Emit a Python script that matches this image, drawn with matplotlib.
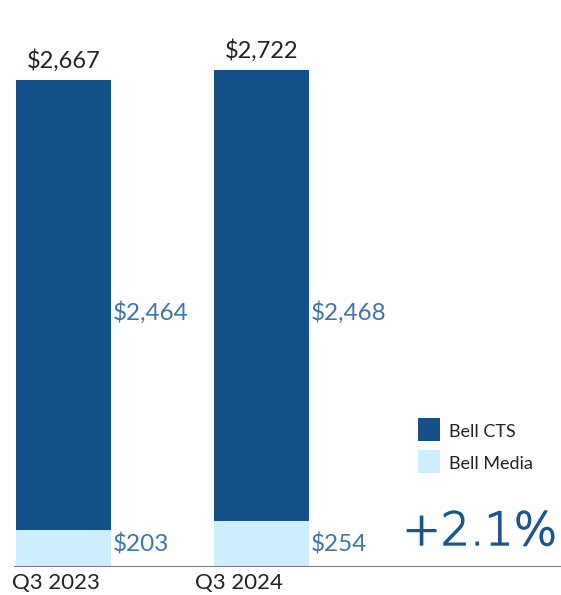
import matplotlib
matplotlib.use("Agg")
import matplotlib.pyplot as plt
from matplotlib.patches import Rectangle
import matplotlib.transforms as mtransforms
import matplotlib.patheffects as pe

categories = ["Q3 2023", "Q3 2024"]
bell_media = [203, 254]
bell_cts = [2464, 2468]
totals = [2667, 2722]
change_label = "+2.1%"
series_names = ["Bell CTS", "Bell Media"]

DARK = "#14508a"
LIGHT = "#cdeefe"
LABEL_BLUE = "#3f74ad"
FONT = "Lato"

W, H = 561, 595
fig = plt.figure(figsize=(W / 100, H / 100), dpi=100)
ax = fig.add_axes([14 / W, 28 / H, 1 - 14 / W, 1 - 28 / H])
ax.set_xlim(-0.25, -0.25 + 547 / 198)
ax.set_ylim(0, 3105)
ax.axis("off")

x = list(range(len(categories)))
width = 0.48
ax.bar(x, bell_media, width=width, color=LIGHT, zorder=2)
ax.bar(x, bell_cts, width=width, bottom=bell_media, color=DARK, zorder=2)

# baseline
ax.axhline(0, color="#7a7a7a", lw=1.5, zorder=3)

for i in x:
    ax.annotate(f"${totals[i]:,}", xy=(i, totals[i]), xytext=(0, 6),
                textcoords="offset points", ha="center", va="bottom",
                fontsize=17, color="#222222", family=FONT)

trans = mtransforms.blended_transform_factory(ax.transData, ax.transAxes)
for i in x:
    ax.text(i + width / 2 + 0.01, 0.448, f"${bell_cts[i]:,}", transform=trans,
            ha="left", va="center", fontsize=17.5, color=LABEL_BLUE, family=FONT)
    ax.text(i + width / 2 + 0.01, 0.039, f"${bell_media[i]:,}", transform=trans,
            ha="left", va="center", fontsize=17.5, color=LABEL_BLUE, family=FONT)

# category labels
cat_x = [-0.26, 0.665]
for i, c in enumerate(categories):
    fig.text((14 + (cat_x[i] + 0.25) * 198) / W, 12 / H, c, ha="left", va="center",
             fontsize=16, color="#222222", family=FONT)

# legend
for j, (name, col) in enumerate(zip(series_names, [DARK, LIGHT])):
    y0 = 1 - (441 + 32 * j) / H
    fig.patches.append(Rectangle((418 / W, y0), 22 / W, 23 / H, transform=fig.transFigure,
                                 facecolor=col, edgecolor="none"))
    fig.text(449 / W, y0 + 9 / H, name, ha="left", va="center", fontsize=13,
             color="#222222", family=FONT)

t = fig.text(557 / W, 1 - 532 / H, change_label, ha="right", va="center", fontsize=33,
             color="#1a5690", family="DejaVu Sans", fontweight="light")
t.set_path_effects([pe.withStroke(linewidth=1.0, foreground="#1a5690")])

fig.savefig("out.png", dpi=100, facecolor="white")
